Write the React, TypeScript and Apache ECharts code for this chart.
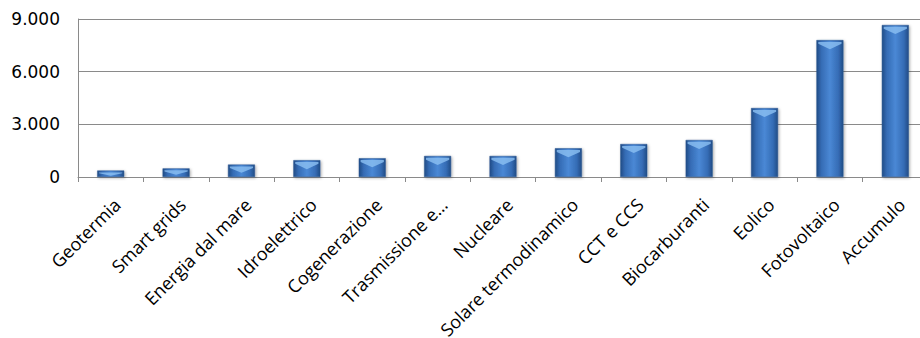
import React, { useEffect, useRef } from "react";
import * as echarts from "echarts";

const categories = [
  "Geotermia",
  "Smart grids",
  "Energia dal mare",
  "Idroelettrico",
  "Cogenerazione",
  "Trasmissione e…",
  "Nucleare",
  "Solare termodinamico",
  "CCT e CCS",
  "Biocarburanti",
  "Eolico",
  "Fotovoltaico",
  "Accumulo",
];
const values = [370, 490, 710, 960, 1070, 1200, 1200, 1640, 1880, 2110, 3930, 7800, 8660];
const yTicks = { min: 0, max: 9000, interval: 3000 };

const fmt = (v: number) => String(v).replace(/\B(?=(\d{3})+(?!\d))/g, ".");

export default function App() {
  const ref = useRef<HTMLDivElement>(null);
  useEffect(() => {
    if (!ref.current) return;
    const chart = echarts.init(ref.current, undefined, { renderer: "svg" });
    const barGrad = new echarts.graphic.LinearGradient(0, 0, 1, 0, [
      { offset: 0, color: "#214c86" },
      { offset: 0.18, color: "#356cb5" },
      { offset: 0.5, color: "#4a88d5" },
      { offset: 0.82, color: "#356cb5" },
      { offset: 1, color: "#214c86" },
    ]);
    chart.setOption({
      animation: false,
      grid: {
        left: 78,
        top: 19,
        bottom: 161,
        right: 0,
        containLabel: false,
        outerBoundsMode: "none",
      },
      xAxis: {
        type: "category",
        data: categories,
        boundaryGap: true,
        axisLine: { lineStyle: { color: "#8a8a8a", width: 1 } },
        axisTick: { show: true, length: 5, lineStyle: { color: "#8a8a8a" } },
        axisLabel: {
          rotate: 45,
          interval: 0,
          margin: 18,
          verticalAlign: "top",
          fontFamily: "Open Sans",
          fontSize: 18,
          color: "#000",
        },
      },
      yAxis: {
        type: "value",
        min: yTicks.min,
        max: yTicks.max,
        interval: yTicks.interval,
        axisLine: { show: true, lineStyle: { color: "#8a8a8a", width: 1 } },
        axisTick: { show: false },
        splitLine: { lineStyle: { color: "#8a8a8a", width: 1 } },
        axisLabel: {
          formatter: (v: number) => fmt(v),
          fontFamily: "DejaVu Sans",
          fontSize: 17,
          color: "#000",
          margin: 18,
        },
      },
      series: [
        {
          type: "bar",
          data: values,
          barWidth: 27,
          itemStyle: {
            color: barGrad,
            borderColor: "#2a5690",
            borderWidth: 0.5,
            shadowColor: "rgba(0,0,0,0.35)",
            shadowBlur: 3,
            shadowOffsetX: 1,
            shadowOffsetY: 1,
          },
        },
        {
          type: "pictorialBar",
          data: values.map((v) => ({
            value: v,
            symbolSize: [23, Math.min(7, (v / 9000) * 158 * 0.5)],
          })),
          symbol: "path://M0,0L20,0L20,1.5L10,6L0,1.5Z",
          symbolPosition: "end",
          symbolOffset: [0, 2],
          itemStyle: { color: "#8cc0f2", opacity: 0.8 },
          z: 3,
        },
      ],
    });
    return () => chart.dispose();
  }, []);
  return (
    <div
      style={{
        position: "absolute",
        left: 0,
        top: 0,
        width: 920,
        height: 338,
        overflow: "hidden",
        background: "#fff",
      }}
    >
      <div ref={ref} style={{ width: 928, height: 338 }} />
    </div>
  );
}
